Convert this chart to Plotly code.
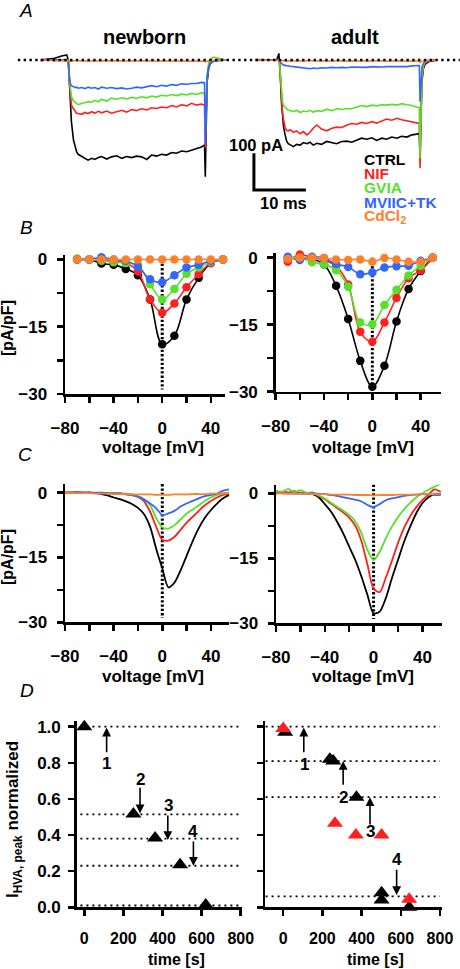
import plotly.graph_objects as go

W, H = 460, 969
FONT = "Liberation Sans, Arial, Helvetica, sans-serif"
BLACK, RED, GREEN, BLUE, ORANGE = "#000000", "#ff1f1f", "#55e02a", "#3366ff", "#ff8029"
COLORS = [BLACK, RED, GREEN, BLUE, ORANGE]
LEGEND_LABELS = ["CTRL", "NIF", "GVIA", "MVIIC+TK", "CdCl<sub>2</sub>"]

# ---------------- Panel A: current traces (time in ms, current in pA) ----------------
T_NB = [-5.4, -3.8, -2.6, -1.3, -0.3, 0, 0.2, 0.4, 0.6, 1.0, 1.3, 1.6, 1.9, 2.6, 3.2, 3.8, 4.5, 5.1, 5.8, 6.4,
        7.4, 8.3, 9.3, 10.3, 11.2, 12.2, 13.1, 14.1, 15.1, 16.0, 17.0, 17.9, 18.9, 19.9, 20.8, 21.8, 22.8, 23.7,
        24.7, 25.6, 26.2, 26.35, 26.5, 26.7, 27.0, 27.3, 27.9, 28.8, 29.8, 30.4]
nb_ctrl = [0, 3, 5, 11, 14, 0, -68, -132, -168, -218, -236, -250, -257,
           -263, -270, -273, -268, -271, -266, -263, -270, -264, -261, -268, -263, -266, -262, -264, -271, -259,
           -262, -257, -259, -252, -254, -248, -250, -246, -241, -237,
           -232, -318, -200, -60, -22, -10, -3, 0, 0, 0]
nb_nif = [-2, 0, -1, 0, 1, 0, -59, -95, -123, -133, -139, -145, -146,
          -148, -143, -146, -141, -145, -140, -144, -139, -145, -141, -137, -142, -135, -138, -133, -136, -130,
          -132, -128, -130, -124, -128, -122, -125, -118, -123, -120,
          -123, -240, -160, -55, -20, -9, -3, 0, 0, 0]
nb_gvia = [0, 1, 0, 0, 1, 0, -50, -82, -100, -112, -116, -119, -121,
           -118, -115, -114, -115, -110, -114, -107, -112, -104, -107, -103, -106, -102, -104, -100, -103, -98,
           -101, -96, -98, -94, -97, -93, -95, -91, -94, -89,
           -91, -200, -140, -40, -8, 2, 8, 6, 2, 0]
nb_mviic = [1, 0, 1, 0, 0, 0, -41, -64, -70, -74, -75, -74, -77,
            -75, -78, -74, -77, -75, -79, -74, -77, -75, -78, -76, -79, -77, -74, -76, -73, -70,
            -73, -69, -71, -67, -69, -65, -66, -64, -64, -61,
            -62, -230, -150, -45, -18, -8, -4, -2, -1, 0]
nb_cd = [0, -1, -2, -1, -2, -2, -3, -2, -3, -2, -3, -2, -2, -3, -2, -3, -2, -3, -2, -2,
         -3, -2, -2, -3, -2, -2, -3, -2, -2, -3, -2, -2, -3, -2, -2, -3, -2, -2, -3, -2,
         -3, -5, -4, -3, -2, -1, -1, 0, 0, 0]

T_AD = [-4.7, -3.1, -1.8, -0.5, -0.1, 0, 0.2, 0.4, 0.6, 0.8, 1.1, 1.4, 1.7, 2.1, 2.7, 3.3, 4.0, 4.6, 5.3, 5.9,
        6.5, 7.2, 8.1, 9.1, 10.1, 11.0, 12.0, 13.0, 13.9, 14.9, 15.8, 16.8, 17.8, 18.7, 19.7, 20.6, 21.6, 22.6,
        23.5, 24.5, 25.5, 26.4, 26.9, 27.05, 27.2, 27.4, 27.7, 28.0, 28.7, 29.6, 30.3]
ad_ctrl = [0, 1, 0, 1, 18, 0, -50, -114, -159, -182, -204, -221, -228, -232, -236, -230, -232, -225, -228, -224,
           -232, -227, -230, -222, -225, -228, -222, -221, -224, -218, -213, -216, -212, -219, -213, -216, -210,
           -213, -208, -210, -204, -202, -200, -259, -141, -59, -23, -12, -5, -1, 0]
ad_nif = [-1, 0, -1, 0, 0, 0, -50, -109, -145, -163, -184, -192, -193, -190, -197, -193, -201, -195, -204, -197,
          -186, -177, -188, -193, -186, -183, -184, -177, -173, -175, -170, -173, -168, -172, -166, -161, -164,
          -159, -163, -166, -168, -170, -173, -295, -132, -50, -18, -9, -3, -1, 0]
ad_gvia = [1, 0, 1, 0, 0, 0, -41, -86, -114, -124, -130, -133, -136, -138, -141, -137, -143, -139, -141, -137,
           -142, -138, -140, -134, -138, -133, -135, -132, -133, -128, -124, -127, -123, -125, -122, -123, -121,
           -123, -119, -122, -124, -128, -130, -268, -123, -45, -15, -6, -1, 1, 0]
ad_mviic = [1, 0, 0, 1, 0, 0, -6, -10, -12, -14, -15, -16, -15, -17, -18, -19, -21, -23, -23, -24,
            -22, -23, -21, -22, -20, -21, -20, -21, -19, -20, -19, -20, -18, -19, -19, -18, -18, -19, -17, -18,
            -16, -15, -15, -114, -50, -20, -9, -5, -2, -1, 0]
ad_cd = [0, -1, 0, -1, -1, -1, -2, -2, -1, -2, -2, -3, -2, -3, -2, -3, -2, -3, -2, -3,
         -2, -3, -2, -3, -2, -3, -2, -3, -2, -3, -2, -3, -2, -3, -2, -3, -2, -3, -2, -3,
         -2, -3, -3, -8, -5, -3, -2, -1, -1, 0, 0]
AD_OFFSET_MS = 40.6          # where the adult sweep is placed on the shared time axis
SCALE_MS, SCALE_PA = 10, 100  # scale bar
SCALE_T0, SCALE_I0 = 35.7, -354

# ---------------- Panel B: I-V relations (points + fits) ----------------
V_B = [-70, -60, -50, -40, -30, -20, -10, 0, 10, 20, 30, 40, 50]
b_nb_ctrl = [0, 0, -0.9, -1.2, -2.1, -3.5, -8.9, -18.9, -17.0, -8.9, -4.1, -0.8, 0]
b_nb_nif = [0, 0, 0, -0.4, -0.8, -2.7, -8.9, -11.9, -9.8, -6.2, -3.3, -0.8, 0]
b_nb_gvia = [0.2, 0, -0.3, -0.6, -0.8, -1.2, -5.5, -8.9, -6.6, -3.2, -1.8, -0.5, 0]
b_nb_mviic = [0, 0, 0.5, 0, -0.3, -1.6, -4.4, -5.1, -3.5, -1.8, -1.2, -0.3, 0]
b_nb_cd = [0, 0, 0, 0, 0, 0, 0, 0, 0, 0, 0, 0, 0]
b_ad_ctrl = [-0.3, 0, -0.3, -1.5, -6.3, -13.7, -23.1, -28.9, -24.2, -14.3, -7.0, -3.0, 0]
b_ad_nif = [-0.9, 0.7, 0, -0.5, -1.9, -6.0, -16.6, -18.8, -14.5, -9.0, -4.6, -2.8, 0]
b_ad_gvia = [0, 0, -1.0, -1.5, -2.8, -6.5, -14.5, -14.9, -10.6, -7.2, -4.0, -1.8, 0]
b_ad_mviic = [0.2, -0.5, 0.2, -0.1, -1.4, -2.1, -3.7, -3.3, -2.2, -1.9, -1.8, -0.7, 0]
b_ad_cd = [-0.3, 0, 0, -0.1, -0.4, -0.5, -0.4, -0.9, -0.1, -0.4, -0.9, -0.9, 0]

# ---------------- Panel C: ramp I-V traces ----------------
V_C = [-80, -75, -70, -65, -60, -55, -50, -45, -40, -35, -30, -25, -20, -15, -10, -5, 0, 5, 10, 15,
       20, 25, 30, 35, 40, 45, 50, 55]
c_nb_ctrl = [0, 0, 0, -0.1, 0, -0.1, -0.3, -0.6, -1.1, -1.5, -2.0, -2.6, -3.5, -5.0, -7.9, -13.0, -17.5, -21.9,
             -20.8, -18.0, -14.6, -11.2, -8.2, -5.8, -4.0, -2.5, -1.3, -0.5]
c_nb_nif = [0, 0, 0, 0, 0, -0.1, -0.1, -0.1, -0.1, -0.2, -0.3, -0.5, -1.0, -2.0, -4.4, -7.9, -10.9, -11.1,
            -10.2, -8.6, -6.9, -5.6, -4.2, -2.9, -1.9, -1.1, -0.5, -0.2]
c_nb_gvia = [0, 0, 0, 0, 0, -0.1, -0.1, -0.1, -0.1, -0.2, -0.2, -0.4, -0.8, -1.5, -2.9, -5.9, -8.0, -8.3,
             -7.5, -6.2, -4.8, -3.9, -2.9, -1.9, -1.1, -0.5, -0.2, 0]
c_nb_mviic = [0.1, 0.1, 0.2, 0.1, 0.1, 0, 0, -0.1, -0.2, -0.1, -0.4, -0.6, -0.9, -1.6, -2.5, -3.6, -5.2, -4.8,
              -4.2, -3.2, -2.5, -1.9, -1.3, -0.8, -0.5, -0.2, 0.5, 0.8]
c_nb_cd = [0, 0, -0.1, -0.1, -0.1, -0.2, -0.2, -0.2, -0.3, -0.3, -0.3, -0.4, -0.4, -0.4, -0.4, -0.5, -0.5, -0.5,
           -0.4, -0.4, -0.4, -0.3, -0.3, -0.3, -0.2, -0.2, -0.1, 0]
c_ad_ctrl = [0, 0.1, 0, 0.1, 0, 0, -0.2, -0.9, -2.5, -4.2, -6.5, -9.2, -12.3, -15.4, -19.2, -23.5, -27.7, -27.3,
             -24.2, -19.6, -15.4, -11.2, -7.7, -4.6, -2.3, -0.9, -0.2, -0.2]
c_ad_nif = [0.1, 0.4, 0.2, 0.5, 0.1, 0, -0.1, -0.6, -1.4, -2.4, -3.4, -4.4, -5.6, -7.5, -11.0, -16.5, -22.0, -22.8,
            -19.5, -15.6, -11.5, -8.0, -5.3, -3.2, -1.6, -0.3, 0.9, 0.3]
c_ad_gvia = [0.6, 0.3, 1.0, 0.2, 0.7, 0.1, 0.2, -0.5, -1.2, -2.2, -3.1, -4.0, -5.0, -6.5, -9.2, -13.1, -15.4, -13.5,
             -10.4, -7.7, -5.5, -3.7, -2.2, -0.9, 0, 0.8, 1.5, 2.2]
c_ad_mviic = [0.2, 0, 0.1, -0.1, 0, -0.1, 0, -0.1, -0.2, -0.4, -0.6, -0.9, -1.2, -1.5, -1.9, -2.7, -3.2, -2.5,
              -1.6, -1.2, -0.9, -0.6, -0.4, -0.3, -0.2, -0.3, -0.4, -0.4]
c_ad_cd = [0, 0, -0.1, -0.1, -0.1, -0.1, -0.2, -0.2, -0.2, -0.3, -0.3, -0.3, -0.3, -0.4, -0.4, -0.4, -0.5, -0.4,
           -0.4, -0.4, -0.3, -0.3, -0.3, -0.3, -0.2, -0.2, -0.2, -0.2]

# ---------------- Panel D: normalized peak current vs time ----------------
d_nb_t = [0, 251, 362, 490, 621]
d_nb_y = [1.0, 0.517, 0.384, 0.235, 0.013]
d_nb_levels = [1.0, 0.515, 0.38, 0.23, 0.01]
d_nb_arrow_t = [114, 285, 427, 558]
d_nb_arrow_from = [0.85, 0.67, 0.517, 0.373]
d_nb_arrow_to = [0.995, 0.52, 0.373, 0.23]
d_nb_lab_t = [114, 288, 430, 558]
d_nb_lab_y = [0.797, 0.705, 0.566, 0.42]

d_ad_t_black = [10, 238, 255, 374, 502, 502, 643]
d_ad_y_black = [0.97, 0.82, 0.81, 0.61, 0.08, 0.04, 0.0]
d_ad_t_red = [0, 264, 371, 502, 643]
d_ad_y_red = [0.99, 0.465, 0.40, 0.40, 0.045]
d_ad_levels = [1.0, 0.81, 0.61, 0.06]
d_ad_arrow_t = [105, 306, 443, 579]
d_ad_arrow_from = [0.85, 0.67, 0.45, 0.216]
d_ad_arrow_to = [0.995, 0.81, 0.61, 0.068]
d_ad_lab_t = [111, 306, 446, 579]
d_ad_lab_y = [0.793, 0.609, 0.42, 0.262]
ARROW_LABELS = ["1", "2", "3", "4"]

for arr, ref in [(nb_ctrl, T_NB), (nb_nif, T_NB), (nb_gvia, T_NB), (nb_mviic, T_NB), (nb_cd, T_NB),
                 (ad_ctrl, T_AD), (ad_nif, T_AD), (ad_gvia, T_AD), (ad_mviic, T_AD), (ad_cd, T_AD)]:
    assert len(arr) == len(ref), (len(arr), len(ref))
for arr in [c_nb_ctrl, c_nb_nif, c_nb_gvia, c_nb_mviic, c_nb_cd, c_ad_ctrl, c_ad_nif, c_ad_gvia, c_ad_mviic, c_ad_cd]:
    assert len(arr) == len(V_C), len(arr)

# ======================= figure =======================
fig = go.Figure()


def dx(a, b):
    return [a / W, b / W]


def dy(top, bottom):
    return [1 - bottom / H, 1 - top / H]


# Panel A
nb_series = [nb_ctrl, nb_nif, nb_gvia, nb_mviic, nb_cd]
ad_series = [ad_ctrl, ad_nif, ad_gvia, ad_mviic, ad_cd]
for ys, c in zip(nb_series, COLORS):
    fig.add_trace(go.Scatter(x=T_NB, y=ys, mode="lines", line=dict(color=c, width=1.6),
                             xaxis="x", yaxis="y", hoverinfo="skip"))
for ys, c in zip(ad_series, COLORS):
    fig.add_trace(go.Scatter(x=[t + AD_OFFSET_MS for t in T_AD], y=ys, mode="lines",
                             line=dict(color=c, width=1.6), xaxis="x", yaxis="y", hoverinfo="skip"))
# dotted zero-current line
fig.add_trace(go.Scatter(x=[-9.7, 75.3], y=[0, 0], mode="lines",
                         line=dict(color="black", width=2.6, dash="2.4px,3.4px"),
                         xaxis="x", yaxis="y", hoverinfo="skip"))
# scale bar
fig.add_trace(go.Scatter(x=[SCALE_T0, SCALE_T0, SCALE_T0 + SCALE_MS],
                         y=[SCALE_I0 + SCALE_PA, SCALE_I0, SCALE_I0], mode="lines",
                         line=dict(color="black", width=3), xaxis="x", yaxis="y", hoverinfo="skip"))

# Panel B
b_sets = [
    ("x2", "y2", [b_nb_ctrl, b_nb_nif, b_nb_gvia, b_nb_mviic, b_nb_cd]),
    ("x3", "y3", [b_ad_ctrl, b_ad_nif, b_ad_gvia, b_ad_mviic, b_ad_cd]),
]
for xa, ya, series in b_sets:
    fig.add_trace(go.Scatter(x=[0, 0], y=[0, -29], mode="lines",
                             line=dict(color="black", width=3, dash="2.3px,2px"),
                             xaxis=xa, yaxis=ya, hoverinfo="skip"))
    for ys, c in zip(series, COLORS):
        fig.add_trace(go.Scatter(x=V_B, y=ys, mode="lines+markers",
                                 line=dict(color=c, width=1.6, shape="spline", smoothing=1.0),
                                 marker=dict(color=c, size=8.5), cliponaxis=False,
                                 xaxis=xa, yaxis=ya, hoverinfo="skip"))

# Panel C
c_sets = [
    ("x4", "y4", [c_nb_ctrl, c_nb_nif, c_nb_gvia, c_nb_mviic, c_nb_cd]),
    ("x5", "y5", [c_ad_ctrl, c_ad_nif, c_ad_gvia, c_ad_mviic, c_ad_cd]),
]
for xa, ya, series in c_sets:
    fig.add_trace(go.Scatter(x=[0, 0], y=[2, -29], mode="lines",
                             line=dict(color="black", width=3, dash="2.3px,2px"),
                             xaxis=xa, yaxis=ya, hoverinfo="skip"))
    for ys, c in zip(series, COLORS):
        fig.add_trace(go.Scatter(x=V_C, y=ys, mode="lines",
                                 line=dict(color=c, width=1.8, shape="spline", smoothing=0.8),
                                 xaxis=xa, yaxis=ya, hoverinfo="skip"))

# Panel D
annotations = []
for lev in d_nb_levels:
    fig.add_trace(go.Scatter(x=[-20, 800], y=[lev, lev], mode="lines",
                             line=dict(color="black", width=1.8, dash="2px,4px"),
                             xaxis="x6", yaxis="y6", hoverinfo="skip"))
for lev in d_ad_levels:
    fig.add_trace(go.Scatter(x=[-90, 800], y=[lev, lev], mode="lines",
                             line=dict(color="black", width=1.8, dash="2px,4px"),
                             xaxis="x7", yaxis="y7", hoverinfo="skip"))
TRI = dict(symbol="triangle-up", size=14, line=dict(width=0))
fig.add_trace(go.Scatter(x=d_nb_t, y=d_nb_y, mode="markers", marker=dict(color=BLACK, **TRI),
                         cliponaxis=False, xaxis="x6", yaxis="y6", hoverinfo="skip"))
fig.add_trace(go.Scatter(x=d_ad_t_black, y=d_ad_y_black, mode="markers", marker=dict(color=BLACK, **TRI),
                         cliponaxis=False, xaxis="x7", yaxis="y7", hoverinfo="skip"))
fig.add_trace(go.Scatter(x=d_ad_t_red, y=d_ad_y_red, mode="markers", marker=dict(color=RED, **TRI),
                         cliponaxis=False, xaxis="x7", yaxis="y7", hoverinfo="skip"))

for xa, ya, ts, fr, to, lt, ly in [
    ("x6", "y6", d_nb_arrow_t, d_nb_arrow_from, d_nb_arrow_to, d_nb_lab_t, d_nb_lab_y),
    ("x7", "y7", d_ad_arrow_t, d_ad_arrow_from, d_ad_arrow_to, d_ad_lab_t, d_ad_lab_y),
]:
    for t, f, e in zip(ts, fr, to):
        annotations.append(dict(x=t, y=e, ax=t, ay=f, xref=xa, yref=ya, axref=xa, ayref=ya,
                                showarrow=True, arrowhead=2, arrowsize=1.1, arrowwidth=1.6,
                                arrowcolor="black", text=""))
    for t, y, s in zip(lt, ly, ARROW_LABELS):
        annotations.append(dict(x=t, y=y, xref=xa, yref=ya, text=s, showarrow=False,
                                xanchor="center", yanchor="middle", font=dict(size=17)))

# ---------- axes ----------
AX = dict(showline=True, linecolor="black", linewidth=2.5, ticks="outside", ticklen=6,
          tickwidth=2.5, tickcolor="black", showgrid=False, zeroline=False, fixedrange=True,
          automargin=False, tickfont=dict(size=17))
V_TICKS = [-80, -40, 0, 40]
V_MINOR = [-60, -20, 20]
I_TICKS = [0, -15, -30]
I_MINOR = [-7.5, -22.5]
D_XT = [0, 200, 400, 600, 800]
D_YT = [0, 0.2, 0.4, 0.6, 0.8, 1.0]
D_YTEXT = ["0.0", "0.2", "0.4", "0.6", "0.8", "1.0"]
MINOR = dict(ticks="outside", ticklen=6, tickwidth=2.5, tickcolor="black", showgrid=False)

layout = dict(
    template="none",
    width=W, height=H, margin=dict(l=0, r=0, t=0, b=0, pad=0), autosize=False,
    paper_bgcolor="white", plot_bgcolor="rgba(0,0,0,0)", showlegend=False,
    font=dict(family=FONT, size=17, color="black", weight="bold"),
    xaxis=dict(domain=dx(0, 460), range=[-13.13, 75.33], visible=False, fixedrange=True, automargin=False),
    yaxis=dict(domain=dy(40, 200), range=[-381.5, 54.5], visible=False, fixedrange=True, automargin=False),
)
panels = [
    (2, dx(65, 225.4), dy(255, 394), [-80, 52], [-30, 1]),
    (3, dx(275.7, 441.2), dy(253.2, 391.7), [-80, 57], [-30, 1]),
    (4, dx(65, 229.2), dy(484.1, 622.3), [-80, 55], [-30, 2]),
    (5, dx(276, 441.9), dy(484.6, 623.3), [-80, 56], [-30, 2]),
]
for n, xd_, yd_, xr, yr in panels:
    layout[f"xaxis{n}"] = dict(AX, domain=xd_, range=xr, anchor=f"y{n}", tickmode="array",
                               tickvals=V_TICKS, ticklabelstandoff=11,
                               minor=dict(MINOR, tickmode="array", tickvals=V_MINOR))
    layout[f"yaxis{n}"] = dict(AX, domain=yd_, range=yr, anchor=f"x{n}", tickmode="array",
                               tickvals=I_TICKS, ticklabelstandoff=6,
                               minor=dict(MINOR, tickmode="array", tickvals=I_MINOR))
layout["xaxis6"] = dict(AX, domain=dx(76.7, 241.7), range=[-39, 805], anchor="y6", tickmode="array",
                        tickvals=D_XT, ticklabelstandoff=9, tickfont=dict(size=16))
layout["yaxis6"] = dict(AX, domain=dy(721.3, 907.3), range=[0, 1.03], anchor="x6", tickmode="array",
                        tickvals=D_YT, ticktext=D_YTEXT, ticklabelstandoff=4)
layout["xaxis7"] = dict(AX, domain=dx(265, 441.5), range=[-93, 808], anchor="y7", tickmode="array",
                        tickvals=D_XT, ticklabelstandoff=9, tickfont=dict(size=16))
layout["yaxis7"] = dict(AX, domain=dy(721.3, 907.3), range=[0, 1.03], anchor="x7", tickmode="array",
                        tickvals=D_YT, showticklabels=False)


def paper(px, py, text, size=17, xanchor="center", font=None, **kw):
    f = dict(size=size)
    if font:
        f.update(font)
    d = dict(x=px / W, y=1 - py / H, xref="paper", yref="paper", text=text, showarrow=False,
             xanchor=xanchor, yanchor="middle", font=f)
    d.update(kw)
    return d


# panel letters
for s, (px, py) in zip(["A", "B", "C", "D"], [(26, 11), (26, 227), (25, 454), (27, 690)]):
    annotations.append(paper(px, py, s, size=19, font=dict(style="italic", weight="normal")))
# titles
annotations.append(paper(144, 37, "newborn", size=20))
annotations.append(paper(355, 37, "adult", size=20))
# scale-bar labels
annotations.append(paper(256, 145, "100 pA", size=16.5))
annotations.append(paper(283, 203, "10 ms", size=16.5))
# legend
for lab, c, py in zip(LEGEND_LABELS, COLORS, [159, 173, 188, 202.5, 216]):
    annotations.append(paper(362, py, lab, size=15.5, xanchor="left", font=dict(color=c)))
# axis titles
for py in [447, 676]:
    annotations.append(paper(153, py, "voltage [mV]", size=17))
    annotations.append(paper(363, py, "voltage [mV]", size=17))
annotations.append(paper(7, 328, "[pA/pF]", size=16, textangle=-90))
annotations.append(paper(7, 557, "[pA/pF]", size=16, textangle=-90))
annotations.append(paper(176, 959, "time [s]", size=16))
annotations.append(paper(375, 959, "time [s]", size=16))
annotations.append(paper(14, 820, "I<sub>HVA, peak</sub> normalized", size=17, textangle=-90))

layout["annotations"] = annotations
fig.update_layout(**layout)
fig.write_html("out.html", config={"displayModeBar": False, "staticPlot": True},
               post_script="document.body.style.margin='0';")
